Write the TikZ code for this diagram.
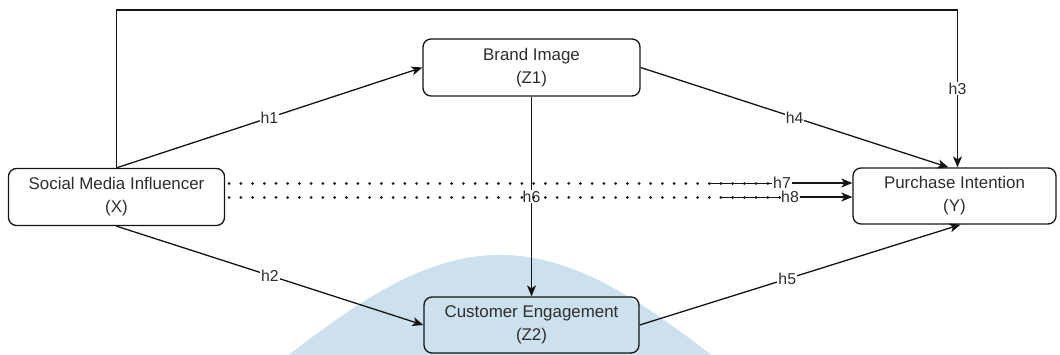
\documentclass[tikz,border=0pt]{standalone}
\usepackage{fontspec}
\setmainfont{Liberation Sans}
\usetikzlibrary{arrows.meta}
\definecolor{ink}{RGB}{20,20,20}
\definecolor{txt}{RGB}{45,45,45}
\definecolor{bell}{RGB}{204,224,238}
\tikzset{
  box/.style={draw=ink, line width=1.3pt, rounded corners=8pt, text=txt,
    align=center, font=\fontsize{16.9}{23}\selectfont, inner sep=0pt},
  arr/.style={draw=ink, line width=1.3pt, -{Stealth[length=11pt,width=9pt,inset=3pt]}},
  dots/.style={draw=ink, line width=3pt, line cap=round, dash pattern=on 0.01pt off 11.7pt},
  thin/.style={draw=ink, line width=0.6pt},
  lab/.style={fill=white, text=txt, font=\fontsize{15.8}{18}\selectfont, inner sep=1pt}
}
\begin{document}
\begin{tikzpicture}[x=1pt,y=-1pt]
\useasboundingbox (0,0) rectangle (1060,354);
% light blue bell in the background
\begin{scope}
\clip (0,0) rectangle (1060,354);
\fill[bell] plot[domain=-3.3:3.3, samples=120, smooth] ({500+100*\x},{555-300*exp(-(\x)*(\x)/11.025)}) -- cycle;
\end{scope}

% constructs
\node[box, minimum width=216pt, minimum height=57pt] (X) at (116.5,197) {Social Media Influencer\\(X)};
\node[box, minimum width=217pt, minimum height=57pt] (Z1) at (531.5,67.5) {Brand Image\\(Z1)};
\node[box, minimum width=215pt, minimum height=56pt] (Z2) at (531.5,325) {Customer Engagement\\(Z2)};
\node[box, minimum width=203pt, minimum height=56pt] (Y) at (954.5,196) {Purchase Intention\\(Y)};

\coordinate (top) at (0,10);

% direct path over the top
\draw[arr] (X.north) -- (X.north |- top) -| ([xshift=3pt]Y.north) node[lab, pos=0.75] {h3};
% paths through the mediators
\draw[arr] (X.north) -- (Z1.west) node[lab, midway] {h1};
\draw[arr] (X.south) -- (Z2.west) node[lab, midway] {h2};
\draw[arr] (Z1.east) -- ([xshift=-6pt]Y.north) node[lab, midway] {h4};
\draw[arr] (Z2.east) -- ([xshift=6pt]Y.south) node[lab, pos=0.46] {h5};
\draw[arr] (Z1.south) -- (Z2.north) node[lab, midway] {h6};

% indirect effects drawn as dotted lines
\coordinate (a7) at ([yshift=14pt]X.east);
\coordinate (b7) at ([yshift=13pt]Y.west);
\coordinate (a8) at (X.east);
\coordinate (b8) at ([yshift=-1pt]Y.west);
\node[lab] (h7) at (782,183) {h7};
\node[lab] (h8) at (790,197) {h8};
\coordinate (t7) at (710,183);
\coordinate (t8) at (722,197);
\draw[dots] ([xshift=4pt]a7) -- (h7.west);
\draw[dots] ([xshift=4pt]a8) -- (h8.west);
\draw[thin] (t7) -- (h7.west);
\draw[thin] (t8) -- (h8.west);
\draw[arr] (h7.east) -- (b7);
\draw[arr] (h8.east) -- (b8);
\end{tikzpicture}
\end{document}
